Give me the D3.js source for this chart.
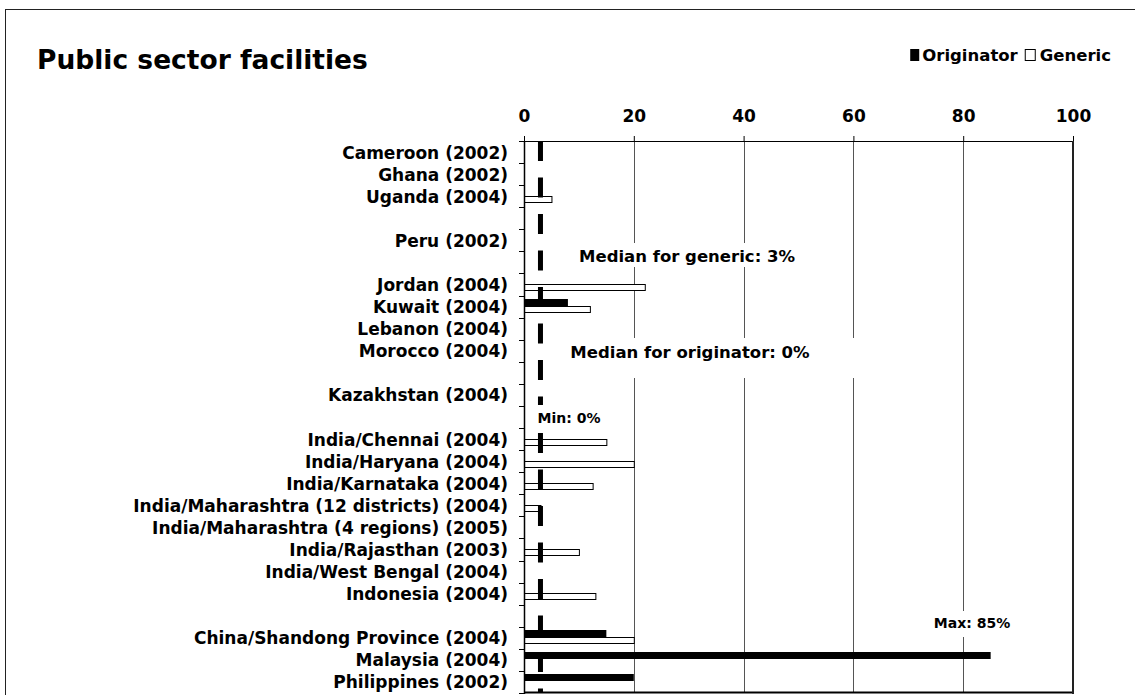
<!DOCTYPE html>
<html>
<head>
<meta charset="utf-8">
<script src="https://cdn.jsdelivr.net/npm/d3@7/dist/d3.min.js"></script>
<style>
body { margin: 0; background: #fff; }
text { font-family: "DejaVu Sans", Verdana, sans-serif; font-weight: bold; fill: #000; }
</style>
</head>
<body>
<svg width="1135" height="695"></svg>
<script>
// rows top to bottom, "" = empty spacer row
var categories = ["Cameroon (2002)", "Ghana (2002)", "Uganda (2004)", "", "Peru (2002)", "",
  "Jordan (2004)", "Kuwait (2004)", "Lebanon (2004)", "Morocco (2004)", "", "Kazakhstan (2004)", "",
  "India/Chennai (2004)", "India/Haryana (2004)", "India/Karnataka (2004)",
  "India/Maharashtra (12 districts) (2004)", "India/Maharashtra (4 regions) (2005)",
  "India/Rajasthan (2003)", "India/West Bengal (2004)", "Indonesia (2004)", "",
  "China/Shandong Province (2004)", "Malaysia (2004)", "Philippines (2002)"];
var originator = [0, 0, 0, null, 0, null, 0, 8, 0, 0, null, 0, null, 0, 0, 0, 0, 0, 0, 0, 0, null, 15, 85, 20];
var generic = [0, 0, 5, null, 0, null, 22, 12, 0, 0, null, 0, null, 15, 20, 12.5, 3, 0, 10, 0, 13, null, 20, 0, 0];
var tickValues = [0, 20, 40, 60, 80, 100];
var medianGeneric = 3;

var svg = d3.select('svg');

// outer frame (runs off the picture on right and bottom)
svg.append('rect').attr('x', 5.5).attr('y', 9.5).attr('width', 1200).attr('height', 800)
  .attr('fill', 'none').attr('stroke', '#222').attr('stroke-width', 1);

svg.append('text').attr('x', 37).attr('y', 69).attr('font-size', 26.5).text('Public sector facilities');

// legend
var lg = svg.append('g').attr('transform', 'translate(1111,55)');
var lgGen = lg.append('text').attr('text-anchor', 'end').attr('dy', '0.36em').attr('font-size', 16.5).text('Generic');
var gw = lgGen.node().getComputedTextLength();
lg.append('rect').attr('x', -gw - 14.5).attr('y', -5.5).attr('width', 10).attr('height', 11)
  .attr('fill', '#fff').attr('stroke', '#000').attr('stroke-width', 1);
var lgOrig = lg.append('text').attr('x', -gw - 22).attr('text-anchor', 'end').attr('dy', '0.36em').attr('font-size', 16.5).text('Originator');
var ow = lgOrig.node().getComputedTextLength();
lg.append('rect').attr('x', -gw - 22 - ow - 12).attr('y', -6).attr('width', 9).attr('height', 12).attr('fill', '#000');

var x = d3.scaleLinear().domain([0, 100]).range([524, 1073]);
var y0 = d3.scaleBand().domain(d3.range(categories.length)).range([141, 693]);
var y1 = d3.scaleBand().domain(['originator', 'generic']).range([3.5, 17.5]);

// gridlines
svg.append('g').selectAll('line').data(tickValues.slice(1, -1)).join('line')
  .attr('x1', function (d) { return Math.round(x(d)) + 0.5; })
  .attr('x2', function (d) { return Math.round(x(d)) + 0.5; })
  .attr('y1', 141).attr('y2', 693).attr('stroke', '#555').attr('stroke-width', 1);

// top axis
var xAxis = svg.append('g').attr('transform', 'translate(0,141)')
  .call(d3.axisTop(x).tickValues(tickValues).tickSize(5).tickPadding(14));
xAxis.select('.domain').remove();
xAxis.selectAll('.tick line').attr('stroke', '#000');
xAxis.selectAll('text').attr('font-size', 17).attr('font-family', null);

// left axis with category labels
var yAxis = svg.append('g').attr('transform', 'translate(524,0)')
  .call(d3.axisLeft(y0).tickFormat(function (i) { return categories[i]; }).tickSize(0).tickPadding(16));
yAxis.select('.domain').remove();
yAxis.selectAll('text').attr('font-size', 17).attr('font-family', null).attr('dy', '0.38em');
svg.append('g').selectAll('line').data(d3.range(categories.length + 1)).join('line')
  .attr('x1', 519).attr('x2', 524)
  .attr('y1', function (i) { return Math.round(141 + i * y0.step()) + 0.5; })
  .attr('y2', function (i) { return Math.round(141 + i * y0.step()) + 0.5; })
  .attr('stroke', '#000');

// bars
var rows = d3.range(categories.length);
svg.append('g').selectAll('rect').data(rows.filter(function (i) { return originator[i] > 0; })).join('rect')
  .attr('x', x(0))
  .attr('y', function (i) { return Math.round(y0(i) + y1('originator')); })
  .attr('width', function (i) { return x(originator[i]) - x(0); })
  .attr('height', 7).attr('fill', '#000');
svg.append('g').selectAll('rect').data(rows.filter(function (i) { return generic[i] > 0; })).join('rect')
  .attr('x', x(0) + 0.5)
  .attr('y', function (i) { return Math.round(y0(i) + y1('generic')) + 0.5; })
  .attr('width', function (i) { return x(generic[i]) - x(0); })
  .attr('height', 6).attr('fill', '#fff').attr('stroke', '#000').attr('stroke-width', 1);

// median for generic, dashed
svg.append('line').attr('x1', x(medianGeneric)).attr('x2', x(medianGeneric))
  .attr('y1', 141).attr('y2', 693).attr('stroke', '#000').attr('stroke-width', 5)
  .attr('stroke-dasharray', '20,16.5');

// annotations on white boxes
function note(cx, cy, bx, by, bw, bh, size, label) {
  svg.append('rect').attr('x', bx).attr('y', by).attr('width', bw).attr('height', bh).attr('fill', '#fff');
  svg.append('text').attr('x', cx).attr('y', cy).attr('dy', '0.36em').attr('text-anchor', 'middle')
    .attr('font-size', size).text(label);
}
note(687, 256, 572, 243, 230, 24, 16.5, 'Median for generic: 3%');
note(690, 352, 565, 338, 293, 40, 16.5, 'Median for originator: 0%');
note(569, 418, 533, 405, 73, 25, 14, 'Min: 0%');
note(972, 623, 925, 611, 95, 26, 14, 'Max: 85%');

// plot border
svg.append('line').attr('x1', 524).attr('x2', 1073).attr('y1', 141.5).attr('y2', 141.5).attr('stroke', '#000');
svg.append('line').attr('x1', 524).attr('x2', 1074).attr('y1', 692.5).attr('y2', 692.5).attr('stroke', '#000').attr('stroke-width', 2);
svg.append('line').attr('x1', 524.5).attr('x2', 524.5).attr('y1', 141).attr('y2', 694).attr('stroke', '#000').attr('stroke-width', 1.5);
svg.append('line').attr('x1', 1073).attr('x2', 1073).attr('y1', 141).attr('y2', 694).attr('stroke', '#222').attr('stroke-width', 2);
</script>
</body>
</html>
